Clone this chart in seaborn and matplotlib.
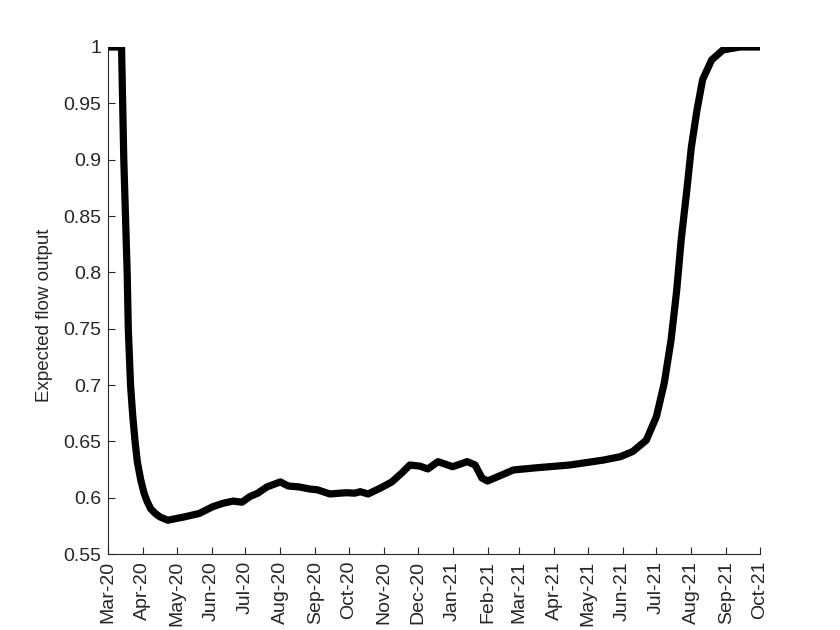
import numpy as np
import pandas as pd
import matplotlib
matplotlib.use("Agg")
import matplotlib.pyplot as plt
import matplotlib.dates as mdates
import seaborn as sns

# values
dates = ["2020-03-01", "2020-03-13", "2020-03-15", "2020-03-18", "2020-03-19",
         "2020-03-21", "2020-03-23", "2020-03-25", "2020-03-27", "2020-03-30",
         "2020-04-02", "2020-04-05", "2020-04-08", "2020-04-12", "2020-04-16",
         "2020-04-23", "2020-05-08", "2020-05-21", "2020-06-02", "2020-06-11",
         "2020-06-20", "2020-06-28", "2020-07-05", "2020-07-12", "2020-07-20",
         "2020-08-01", "2020-08-08", "2020-08-18", "2020-08-27", "2020-09-03",
         "2020-09-14", "2020-09-23", "2020-09-29", "2020-10-06", "2020-10-11",
         "2020-10-18", "2020-10-29", "2020-11-08", "2020-11-17", "2020-11-24",
         "2020-12-03", "2020-12-10", "2020-12-19", "2021-01-01", "2021-01-14",
         "2021-01-21", "2021-01-27", "2021-02-01", "2021-02-10", "2021-02-24",
         "2021-03-17", "2021-04-15", "2021-05-15", "2021-05-30", "2021-06-10",
         "2021-06-22", "2021-07-01", "2021-07-08", "2021-07-14", "2021-07-19",
         "2021-07-23", "2021-07-28", "2021-08-01", "2021-08-06", "2021-08-11",
         "2021-08-19", "2021-08-29", "2021-09-13", "2021-10-01"]
flow = [1.0, 1.0, 0.9, 0.8, 0.75,
        0.70, 0.672, 0.65, 0.632, 0.616,
        0.604, 0.596, 0.590, 0.586, 0.583,
        0.580, 0.583, 0.586, 0.592, 0.595,
        0.597, 0.596, 0.601, 0.604, 0.6095,
        0.614, 0.6104, 0.6095, 0.6077, 0.607,
        0.6033, 0.604, 0.6044, 0.604, 0.6053,
        0.6033, 0.6086, 0.614, 0.622, 0.629,
        0.628, 0.6255, 0.632, 0.6275, 0.632,
        0.629, 0.6175, 0.6148, 0.6186, 0.6246,
        0.6266, 0.629, 0.6334, 0.6364, 0.641,
        0.651, 0.672, 0.702, 0.740, 0.784,
        0.829, 0.873, 0.911, 0.944, 0.971,
        0.9885, 0.9973, 1.0, 1.0]
yticks = [0.55, 0.6, 0.65, 0.7, 0.75, 0.8, 0.85, 0.9, 0.95, 1.0]

df = pd.DataFrame({"date": pd.to_datetime(dates), "flow": flow})

sns.set_style("ticks")
plt.rcParams["font.family"] = ["Liberation Sans", "DejaVu Sans"]
plt.rcParams["xtick.direction"] = "in"
plt.rcParams["ytick.direction"] = "in"

fig = plt.figure(figsize=(8.4, 6.3), dpi=100)
ax = fig.add_axes([0.1286, 0.1206, 0.7762, 0.8048])
sns.lineplot(data=df, x="date", y="flow", color="black", linewidth=5.2,
             solid_joinstyle="round", ax=ax)

ax.set_xlim(pd.Timestamp("2020-03-01"), pd.Timestamp("2021-10-01"))
ax.set_ylim(0.55, 1.0)
ax.xaxis.set_major_locator(mdates.MonthLocator())
ax.xaxis.set_major_formatter(mdates.DateFormatter("%b-%y"))
ax.set_yticks(yticks)
ax.set_yticklabels(["%g" % v for v in yticks])
ax.tick_params(axis="both", labelsize=14, length=5, width=0.8, color="#262626",
               labelcolor="#262626", pad=5)
ax.tick_params(axis="x", labelrotation=90)
for s in ["top", "right"]:
    ax.spines[s].set_visible(False)
for s in ["left", "bottom"]:
    ax.spines[s].set_linewidth(0.8)
    ax.spines[s].set_color("#262626")
ax.set_xlabel("")
ax.set_ylabel("Expected flow output", fontsize=13.5, color="#262626")
ax.yaxis.set_label_coords(-0.084, 0.47)

fig.savefig("out.png", dpi=100)
